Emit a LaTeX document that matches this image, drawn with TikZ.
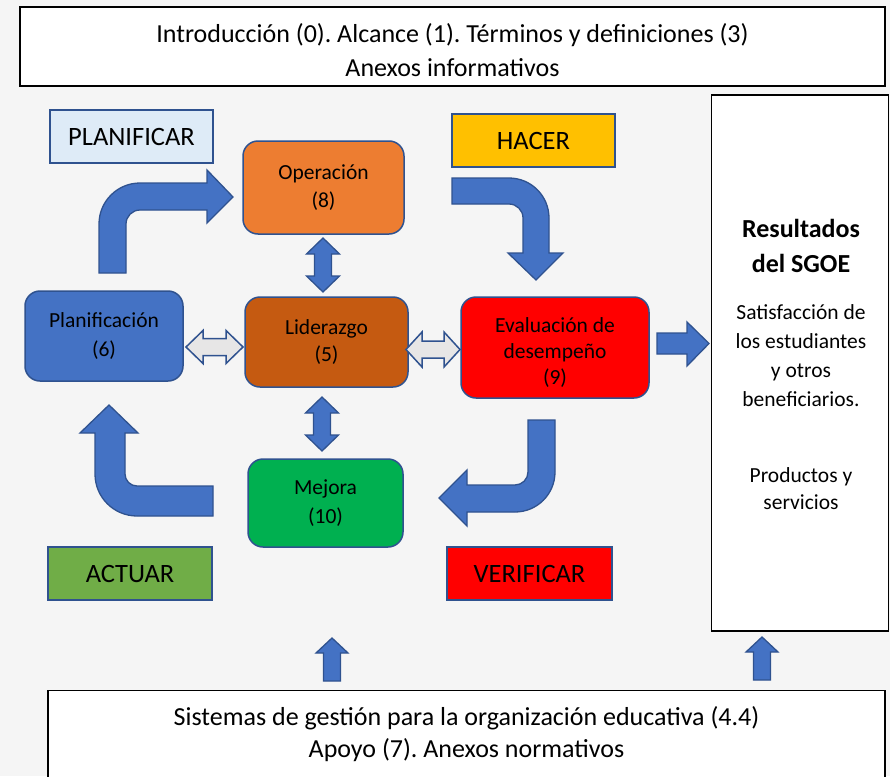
\documentclass[tikz,border=0pt]{standalone}
\usepackage{fontspec}
\setmainfont{Carlito}
\frenchspacing
\usetikzlibrary{calc}

\definecolor{fondo}{HTML}{F5F5F5}
\definecolor{borde}{HTML}{2F528F}
\definecolor{azul}{HTML}{4472C4}
\definecolor{celeste}{HTML}{DEEBF7}
\definecolor{amarillo}{HTML}{FFC000}
\definecolor{verdeclaro}{HTML}{70AD47}
\definecolor{naranja}{HTML}{ED7D31}
\definecolor{marron}{HTML}{C55A11}
\definecolor{verde}{HTML}{00B050}
\definecolor{grisf}{HTML}{E7E6E6}

\begin{document}
\begin{tikzpicture}[x=1pt,y=-1pt,
	caja/.style={draw=black, line width=1.5pt, fill=white, inner sep=0pt, align=center},
	fase/.style={draw=borde, line width=1.5pt, minimum width=163pt, minimum height=53pt, inner sep=0pt, font=\fontsize{26.5}{30}\selectfont},
	proceso/.style={draw=borde, line width=1.5pt, rounded corners=15pt, inner sep=0pt, align=center, font=\fontsize{21.5}{28.5}\selectfont},
	flecha/.style={fill=azul, draw=borde, line width=1.3pt},
	hueca/.style={fill=grisf, draw=borde, line width=1.5pt}]
	\fill[fondo] (0,0) rectangle (890,776);
	\useasboundingbox (0,0) rectangle (890,776);
	% cajas de contexto
	\node[caja, minimum width=865pt, minimum height=79pt] (intro) at (452.5,46.5) {};
	\node[align=center, font=\fontsize{26}{34}\selectfont] (introtxt) at (452.5,50) {Introducción (0). Alcance (1). Términos y definiciones (3)\\Anexos informativos};
	\node[caja, minimum width=837pt, minimum height=88pt, font=\fontsize{26}{32}\selectfont] (sist) at (466.5,734.5) {Sistemas de gestión para la organización educativa (4.4)\\Apoyo (7). Anexos normativos};
	\node[caja, minimum width=177pt, minimum height=536pt] (res) at (800,363) {};
	\node[font=\fontsize{26}{35}\selectfont\bfseries, align=center] (restit) at (801,245.5) {Resultados\\del SGOE};
	\node[font=\fontsize{21.5}{29}\selectfont, align=center] (resben) at (801,355.5) {Satisfacción de\\los estudiantes\\y otros\\beneficiarios.};
	\node[font=\fontsize{21.5}{27}\selectfont, align=center] (resprod) at (801,488.5) {Productos y\\servicios};
	% fases del ciclo
	\node[fase, fill=celeste] (planificar) at (131.5,136.5) {PLANIFICAR};
	\node[fase, fill=amarillo] (hacer) at (533.5,140.5) {HACER};
	\node[fase, fill=verdeclaro, minimum width=164pt] (actuar) at (130,573.5) {ACTUAR};
	\node[fase, fill=red, minimum width=165pt] (verificar) at (529.5,573.5) {VERIFICAR};
	% capitulos
	\node[proceso, fill=naranja, minimum width=161pt, minimum height=93pt] (oper) at (323.5,187.5) {Operación\\(8)};
	\node[proceso, fill=marron, minimum width=163pt, minimum height=90pt, font=\fontsize{21.5}{26.5}\selectfont] (lider) at (326.5,342) {Liderazgo\\(5)};
	\node[proceso, fill=azul, minimum width=158pt, minimum height=90pt] (plan) at (104,336) {Planificación\\(6)};
	\node[proceso, fill=red, minimum width=188pt, minimum height=101pt] (eval) at (555,347.5) {};
	\node[align=center, font=\fontsize{21.5}{26}\selectfont] (evaltxt) at (555,353) {Evaluación de\\desempeño\\(9)};
	\node[proceso, fill=verde, minimum width=155pt, minimum height=88pt] (mejora) at (325.5,503) {Mejora\\(10)};
	% flechas dobles
	\draw[flecha] (323,238) -- ++(16.5,16) -- ++(-8,0) -- ++(0,22) -- ++(8,0) -- ++(-16.5,16) -- ++(-16.5,-16) -- ++(8,0) -- ++(0,-22) -- ++(-8,0) -- cycle;
	\draw[flecha] (322,397) -- ++(16.5,16) -- ++(-8,0) -- ++(0,22) -- ++(8,0) -- ++(-16.5,16) -- ++(-16.5,-16) -- ++(8,0) -- ++(0,-22) -- ++(-8,0) -- cycle;
	\draw[hueca] (186,347) -- ++(17,-16.5) -- ++(0,8) -- ++(23,0) -- ++(0,-8) -- ++(17,16.5) -- ++(-17,16.5) -- ++(0,-8) -- ++(-23,0) -- ++(0,8) -- cycle;
	\draw[hueca] (406,349.5) -- ++(16,-17.5) -- ++(0,9) -- ++(22,0) -- ++(0,-9) -- ++(16,17.5) -- ++(-16,17.5) -- ++(0,-9) -- ++(-22,0) -- ++(0,9) -- cycle;
	% flechas curvas del ciclo
	\draw[flecha] (99,273) -- (99,224) arc[start angle=180, end angle=270, radius=41] -- (207,183) -- (207,170) -- (233,197) -- (207,223) -- (207,210) -- (140,210) arc[start angle=270, end angle=180, radius=14] -- (126,273) -- cycle;
	\draw[flecha] (452,178) -- (509,178) arc[start angle=270, end angle=360, radius=40] -- (549,253) -- (563,253) -- (536,280) -- (508,253) -- (523,253) -- (523,218) arc[start angle=0, end angle=-90, radius=14] -- (452,204) -- cycle;
	\draw[flecha] (528,420) -- (555,420) -- (555,472) arc[start angle=0, end angle=90, radius=40] -- (467,512) -- (467,526) -- (439,498) -- (467,470) -- (467,485) -- (515,485) arc[start angle=90, end angle=0, radius=13] -- cycle;
	\draw[flecha] (213,486) -- (213,516) -- (137,516) arc[start angle=90, end angle=180, radius=42] -- (95,433) -- (80,433) -- (109,405) -- (138,433) -- (125,433) -- (125,474) arc[start angle=180, end angle=90, radius=12] -- cycle;
	% flechas simples
	\draw[flecha] (657,333) -- (687,333) -- (687,322) -- (709,343.5) -- (687,366) -- (687,354) -- (657,354) -- cycle;
	\draw[flecha] (332,638) -- ++(16,15) -- ++(-7.5,0) -- ++(0,28) -- ++(-17,0) -- ++(0,-28) -- ++(-7.5,0) -- cycle;
	\draw[flecha] (762,637) -- ++(16,15) -- ++(-7.5,0) -- ++(0,28) -- ++(-17,0) -- ++(0,-28) -- ++(-7.5,0) -- cycle;
\end{tikzpicture}
\end{document}
